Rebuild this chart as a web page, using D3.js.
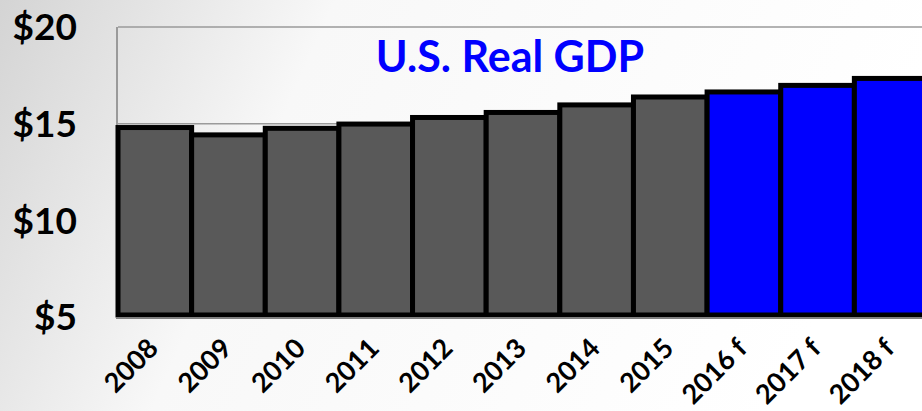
<!DOCTYPE html>
<meta charset="utf-8">
<script src="https://d3js.org/d3.v7.min.js"></script>
<style>
  body { margin: 0; }
  svg { display: block; font-family: Lato, "Open Sans", sans-serif; }
</style>
<div id="my_dataviz"></div>
<script>

// data (trillions of dollars)
var years = ["2008", "2009", "2010", "2011", "2012", "2013", "2014", "2015", "2016 f", "2017 f", "2018 f"];
var gdp = [14.80, 14.42, 14.76, 14.98, 15.32, 15.58, 15.97, 16.38, 16.64, 16.98, 17.34];
var forecast = [false, false, false, false, false, false, false, false, true, true, true];
var yTicks = [5, 10, 15, 20];
var title = "U.S. Real GDP";

var width = 922, height = 411;
var margin = {top: 27, right: -6, bottom: 94, left: 118};

var svg = d3.select("#my_dataviz")
  .append("svg")
    .attr("width", width)
    .attr("height", height);

// page background: grey on the left fading to white
var grad = svg.append("defs").append("linearGradient")
    .attr("id", "bg")
    .attr("x1", "0%").attr("y1", "0%")
    .attr("x2", "100%").attr("y2", "20%");
grad.append("stop").attr("offset", "0%").attr("stop-color", "#d4d4d4");
grad.append("stop").attr("offset", "35%").attr("stop-color", "#f8f8f8");
grad.append("stop").attr("offset", "100%").attr("stop-color", "#ffffff");

svg.append("rect")
    .attr("width", width)
    .attr("height", height)
    .attr("fill", "url(#bg)");

var x = d3.scaleBand()
    .domain(years)
    .range([margin.left, width - margin.right])
    .padding(0);

var y = d3.scaleLinear()
    .domain([5, 20])
    .range([height - margin.bottom, margin.top]);

// gridlines
svg.append("g")
  .selectAll("line")
  .data(yTicks.filter(function(d) { return d > 5; }))
  .enter()
  .append("line")
    .attr("x1", margin.left)
    .attr("x2", width)
    .attr("y1", function(d) { return y(d); })
    .attr("y2", function(d) { return y(d); })
    .attr("stroke", "#9a9a9a")
    .attr("stroke-width", 1.5);

// y axis line
svg.append("line")
    .attr("x1", margin.left - 1)
    .attr("x2", margin.left - 1)
    .attr("y1", y(20))
    .attr("y2", y(5))
    .attr("stroke", "#9a9a9a")
    .attr("stroke-width", 2);

// bars
svg.append("g")
  .selectAll("rect")
  .data(gdp)
  .enter()
  .append("rect")
    .attr("x", function(d, i) { return x(years[i]); })
    .attr("y", function(d) { return y(d); })
    .attr("width", x.bandwidth())
    .attr("height", function(d) { return y(5) - y(d) - 2; })
    .attr("fill", function(d, i) { return forecast[i] ? "#0000ff" : "#595959"; })
    .attr("stroke", "#000")
    .attr("stroke-width", 5);

// x axis line
svg.append("line")
    .attr("x1", margin.left - 2)
    .attr("x2", width)
    .attr("y1", y(5) + 1)
    .attr("y2", y(5) + 1)
    .attr("stroke", "#808080")
    .attr("stroke-width", 2);

// y labels
svg.append("g")
  .selectAll("text")
  .data(yTicks)
  .enter()
  .append("text")
    .attr("x", 77)
    .attr("y", function(d) { return y(d); })
    .attr("dy", "0.36em")
    .attr("text-anchor", "end")
    .style("font-size", "37px")
    .style("font-weight", "bold")
    .attr("fill", "#000")
    .text(function(d) { return "$" + d; });

// x labels
svg.append("g")
  .selectAll("text")
  .data(years)
  .enter()
  .append("text")
    .attr("transform", function(d) {
      return "translate(" + (x(d) + x.bandwidth() / 2 + 5) + "," + 350 + ") rotate(-45)";
    })
    .attr("text-anchor", "end")
    .style("font-size", "27px")
    .style("font-weight", "bold")
    .attr("fill", "#000")
    .text(function(d) { return d; });

// title
svg.append("text")
    .attr("x", 510)
    .attr("y", 72)
    .attr("text-anchor", "middle")
    .style("font-size", "43px")
    .style("font-weight", "bold")
    .attr("fill", "#0000ff")
    .text(title);

</script>
